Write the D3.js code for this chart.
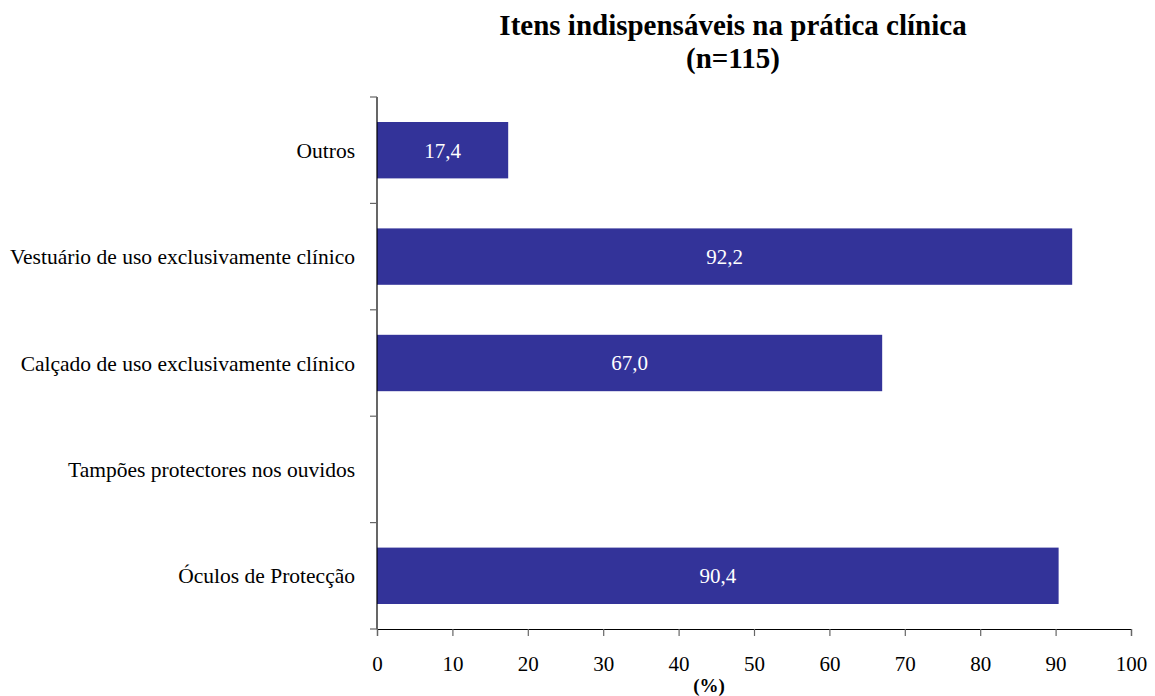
<!DOCTYPE html>
<html>
<head>
<meta charset="utf-8">
<script src="https://cdn.jsdelivr.net/npm/d3@7"></script>
<style>
  html, body { margin: 0; padding: 0; background: #fff; }
  svg { display: block; }
  svg text { font-family: "Liberation Serif", "Times New Roman", serif; }
</style>
</head>
<body>
<svg id="chart" width="1155" height="696"></svg>
<script>
// Items listed bottom to top as they appear on the chart
const categories = [
  "Óculos de Protecção",
  "Tampões protectores nos ouvidos",
  "Calçado de uso exclusivamente clínico",
  "Vestuário de uso exclusivamente clínico",
  "Outros"
];
const percentages = [90.4, 0, 67.0, 92.2, 17.4];
const xTicks = [0, 10, 20, 30, 40, 50, 60, 70, 80, 90, 100];
const titleLines = ["Itens indispensáveis na prática clínica", "(n=115)"];
const axisTitle = "(%)";

const FONT = "Liberation Serif, Times New Roman, serif";
const svg = d3.select("#chart");
const margin = { left: 377, right: 24, top: 97, bottom: 67 };
const W = 1155, H = 696;
const plotW = W - margin.left - margin.right;
const plotH = H - margin.top - margin.bottom;

const x = d3.scaleLinear().domain([0, 100]).range([0, plotW]);
const y = d3.scaleBand()
  .domain(categories.slice().reverse())
  .range([0, plotH])
  .paddingInner(0.47)
  .paddingOuter(0.235);

const g = svg.append("g").attr("transform", `translate(${margin.left},${margin.top})`);

// Title
svg.append("g").selectAll("text")
  .data(titleLines)
  .join("text")
  .attr("x", 733)
  .attr("y", (d, i) => 35 + i * 33)
  .attr("text-anchor", "middle")
  .attr("font-family", FONT)
  .attr("font-size", 29)
  .attr("font-weight", "bold")
  .text(d => d);

// Bars
const rows = categories.map((c, i) => ({ c, v: percentages[i] }));
g.selectAll("rect.bar")
  .data(rows.filter(d => d.v > 0))
  .join("rect")
  .attr("class", "bar")
  .attr("x", 0)
  .attr("y", d => y(d.c))
  .attr("width", d => x(d.v))
  .attr("height", y.bandwidth())
  .attr("fill", "#333399");

// Value labels inside bars
g.selectAll("text.val")
  .data(rows.filter(d => d.v > 0))
  .join("text")
  .attr("class", "val")
  .attr("x", d => x(d.v) / 2)
  .attr("y", d => y(d.c) + y.bandwidth() / 2)
  .attr("dy", "0.35em")
  .attr("text-anchor", "middle")
  .attr("font-family", FONT)
  .attr("font-size", 21)
  .attr("fill", "#fff")
  .text(d => d.v.toFixed(1).replace(".", ","));

// Category axis (ticks at band boundaries)
const bounds = d3.range(categories.length + 1).map(i => i * plotH / categories.length);
g.append("line")
  .attr("x1", 0).attr("x2", 0).attr("y1", 0).attr("y2", plotH)
  .attr("stroke", "#000").attr("stroke-width", 1.2);
g.selectAll("line.ytick")
  .data(bounds)
  .join("line")
  .attr("class", "ytick")
  .attr("x1", -7).attr("x2", 0)
  .attr("y1", d => d).attr("y2", d => d)
  .attr("stroke", "#666").attr("stroke-width", 1.2);
g.selectAll("text.cat")
  .data(categories)
  .join("text")
  .attr("class", "cat")
  .attr("x", -22)
  .attr("y", d => y(d) + y.bandwidth() / 2)
  .attr("dy", "0.35em")
  .attr("text-anchor", "end")
  .attr("font-family", FONT)
  .attr("font-size", 21.5)
  .attr("fill", "#000")
  .text(d => d);

// Value axis
const xAxis = g.append("g")
  .attr("transform", `translate(0,${plotH})`)
  .call(d3.axisBottom(x).tickValues(xTicks).tickSize(7).tickPadding(20).tickFormat(d3.format("d")));
xAxis.attr("font-family", FONT);
xAxis.select(".domain").attr("stroke", "#000").attr("stroke-width", 1.2);
xAxis.selectAll(".tick line").attr("stroke", "#666").attr("stroke-width", 1.2);
xAxis.selectAll(".tick text")
  .attr("font-family", FONT)
  .attr("font-size", 21)
  .attr("fill", "#000");

svg.append("text")
  .attr("x", 709)
  .attr("y", 692)
  .attr("text-anchor", "middle")
  .attr("font-family", FONT)
  .attr("font-size", 19)
  .attr("font-weight", "bold")
  .text(axisTitle);
</script>
</body>
</html>
